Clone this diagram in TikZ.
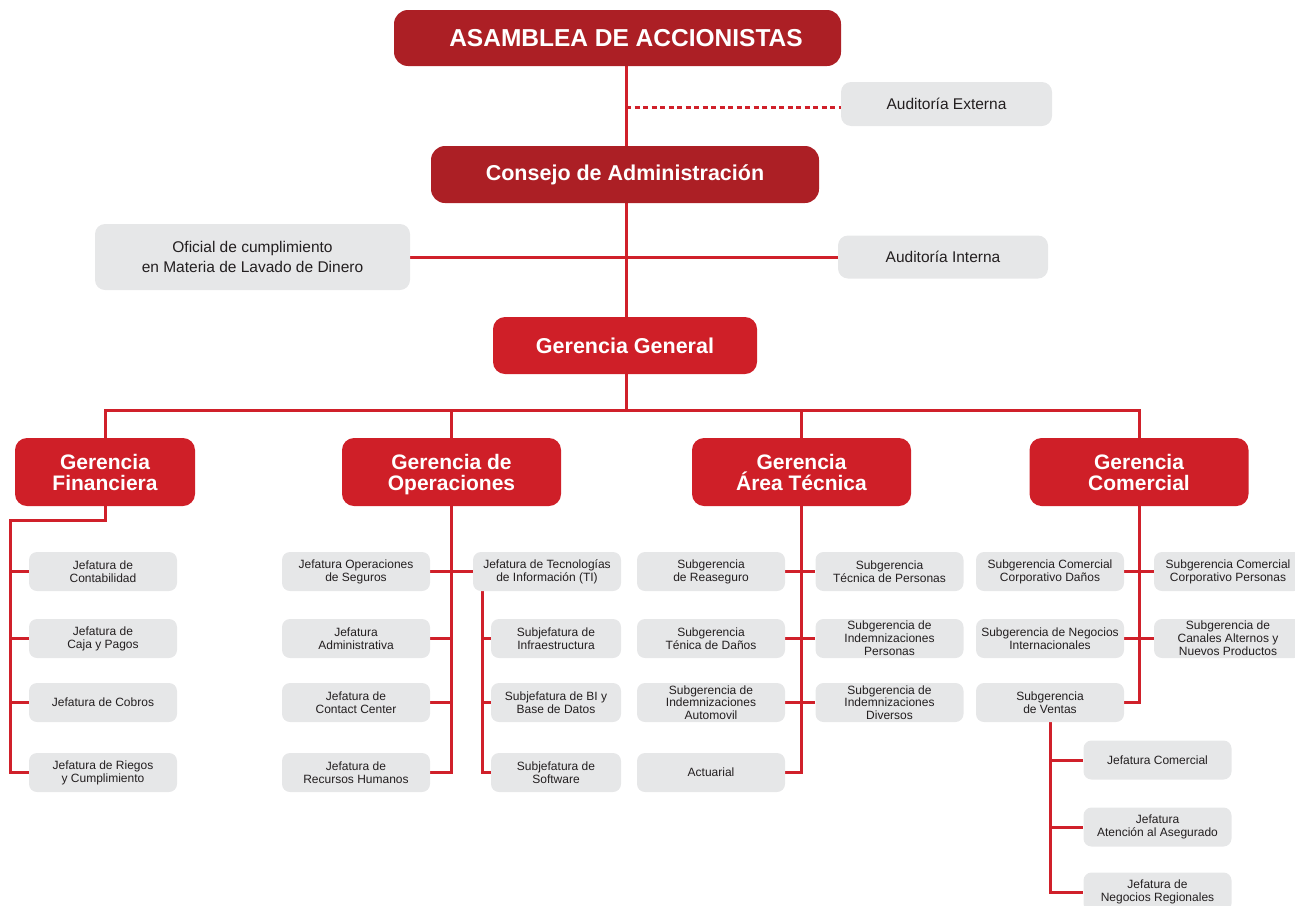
\documentclass[tikz,border=0pt]{standalone}
\usepackage{fontspec}
\setmainfont{Liberation Sans}
\usetikzlibrary{calc}
\pgfdeclarelayer{background}
\pgfsetlayers{background,main}
\definecolor{darkred}{HTML}{AC1F25}
\definecolor{brightred}{HTML}{CF1F28}
\definecolor{linered}{HTML}{D0202A}
\definecolor{boxgray}{HTML}{E6E7E8}
\definecolor{txtdark}{HTML}{231F20}

\begin{document}
\begin{tikzpicture}[x=1pt,y=-1pt,
  topbox/.style={fill=darkred,text=white,rounded corners=14pt,inner sep=0pt,
    font=\bfseries\fontsize{21.5}{23}\selectfont},
  gerbox/.style={fill=brightred,text=white,rounded corners=12pt,inner sep=0pt,
    align=center,minimum width=219pt,minimum height=68pt,
    text height=36pt,text depth=0pt,
    font=\bfseries\fontsize{21}{21}\selectfont},
  midbox/.style={fill=boxgray,text=txtdark,rounded corners=10pt,inner sep=0pt,
    align=center,font=\fontsize{15.5}{20.5}\selectfont},
  jefbox/.style={fill=boxgray,text=txtdark,rounded corners=8pt,inner sep=0pt,
    align=center,minimum width=148pt,minimum height=39pt,
    font=\fontsize{12}{12.8}\selectfont},
  link/.style={draw=linered,line width=3pt},
  dashlink/.style={link,dash pattern=on 5pt off 3.5pt}]
  \useasboundingbox (0,0) rectangle (1295,905);

  % top of the chart
  \node[topbox,minimum width=447pt,minimum height=56pt,font=\bfseries\fontsize{24.5}{26}\selectfont]
    (asamblea) at (617.5,38) {\hspace*{17pt}ASAMBLEA DE ACCIONISTAS};
  \node[midbox,minimum width=211pt,minimum height=44pt] (externa) at (946.5,104) {Auditoría Externa};
  \node[topbox,minimum width=388pt,minimum height=57pt] (consejo) at (625,174.5) {Consejo de Administración};
  \node[midbox,minimum width=315pt,minimum height=66pt] (oficial) at (252.5,257)
    {Oficial de cumplimiento\\en Materia de Lavado de Dinero};
  \node[midbox,minimum width=210pt,minimum height=43pt] (interna) at (943,257) {Auditoría Interna};
  \node[topbox,fill=brightred,rounded corners=12pt,minimum width=264pt,minimum height=57pt]
    (gg) at (625,345.5) {Gerencia General};

  % gerencias
  \node[gerbox,minimum width=180pt] (fin) at (105,472) {Gerencia\\Financiera};
  \node[gerbox] (op) at (451.5,472) {Gerencia de\\Operaciones};
  \node[gerbox] (tec) at (801.5,472) {Gerencia\\Área Técnica};
  \node[gerbox] (com) at (1139,472) {Gerencia\\Comercial};

  % financiera
  \node[jefbox] (fin1) at (103,571.5) {Jefatura de\\Contabilidad};
  \node[jefbox] (fin2) at (103,638.5) {Jefatura de\\Caja y Pagos};
  \node[jefbox] (fin3) at (103,702.5) {Jefatura de Cobros};
  \node[jefbox] (fin4) at (103,772.5) {Jefatura de Riegos\\y Cumplimiento};

  % operaciones
  \node[jefbox] (op1) at (356,571.5) {Jefatura Operaciones\\de Seguros};
  \node[jefbox] (op2) at (356,638.5) {Jefatura\\Administrativa};
  \node[jefbox] (op3) at (356,702.5) {Jefatura de\\Contact Center};
  \node[jefbox] (op4) at (356,772.5) {Jefatura de\\Recursos Humanos};
  \node[jefbox] (ti) at (547,571.5) {Jefatura de Tecnologías\\de Información (TI)};
  \node[jefbox,minimum width=130pt] (ti1) at (556,638.5) {Subjefatura de\\Infraestructura};
  \node[jefbox,minimum width=130pt] (ti2) at (556,702.5) {Subjefatura de BI y\\Base de Datos};
  \node[jefbox,minimum width=130pt] (ti3) at (556,772.5) {Subjefatura de\\Software};

  % area tecnica
  \node[jefbox] (tec1) at (711,571.5) {Subgerencia\\de Reaseguro};
  \node[jefbox] (tec2) at (889.5,571.5) {Subgerencia\\Técnica de Personas};
  \node[jefbox] (tec3) at (711,638.5) {Subgerencia\\Ténica de Daños};
  \node[jefbox] (tec4) at (889.5,638.5) {Subgerencia de\\Indemnizaciones\\Personas};
  \node[jefbox] (tec5) at (711,702.5) {Subgerencia de\\Indemnizaciones\\Automovil};
  \node[jefbox] (tec6) at (889.5,702.5) {Subgerencia de\\Indemnizaciones\\Diversos};
  \node[jefbox] (tec7) at (711,772.5) {Actuarial};

  % comercial
  \node[jefbox] (com1) at (1050,571.5) {Subgerencia Comercial\\Corporativo Daños};
  \node[jefbox] (com2) at (1228,571.5) {Subgerencia Comercial\\Corporativo Personas};
  \node[jefbox] (com3) at (1050,638.5) {Subgerencia de Negocios\\Internacionales};
  \node[jefbox] (com4) at (1228,638.5) {Subgerencia de\\Canales Alternos y\\Nuevos Productos};
  \node[jefbox] (com5) at (1050,702.5) {Subgerencia\\de Ventas};
  \node[jefbox] (ven1) at (1157.5,760) {Jefatura Comercial};
  \node[jefbox] (ven2) at (1157.5,827) {Jefatura\\Atención al Asegurado};
  \node[jefbox] (ven3) at (1157.5,892) {Jefatura de\\Negocios Regionales};

  \coordinate (bus) at (626,410);
  \coordinate (ext) at (626,107);
  \coordinate (finrail) at (10,520);
  \coordinate (tirail) at (482,591);

  \begin{pgfonlayer}{background}
    \draw[link] (asamblea.south -| bus) -- (bus);
    \draw[dashlink] (ext) -- (ext -| externa.west);
    \draw[link] (oficial.east) -- (interna.west);
    \draw[link] (fin.north) |- (bus) -| (com.north);
    \draw[link] (op.north) -- (op.north |- bus);
    \draw[link] (tec.north) -- (tec.north |- bus);
    % financiera
    \draw[link] (fin.south) |- (finrail) |- (fin4.west);
    \foreach \n in {fin1,fin2,fin3}
      \draw[link] (finrail |- \n) -- (\n.west);
    % operaciones
    \draw[link] (op.south) |- (op4.east);
    \draw[link] (op1.east) -- (ti.west);
    \foreach \n in {op2,op3}
      \draw[link] (\n.east) -- (\n.east -| op.south);
    \draw[link] (tirail) |- (ti3.west);
    \foreach \n in {ti1,ti2}
      \draw[link] (tirail |- \n) -- (\n.west);
    % area tecnica
    \draw[link] (tec.south) |- (tec7.east);
    \draw[link] (tec1.east) -- (tec2.west);
    \draw[link] (tec3.east) -- (tec4.west);
    \draw[link] (tec5.east) -- (tec6.west);
    % comercial
    \draw[link] (com.south) |- (com5.east);
    \draw[link] (com1.east) -- (com2.west);
    \draw[link] (com3.east) -- (com4.west);
    \draw[link] (com5.south) |- (ven3.west);
    \foreach \n in {ven1,ven2}
      \draw[link] (com5.south |- \n) -- (\n.west);
  \end{pgfonlayer}
\end{tikzpicture}
\end{document}
